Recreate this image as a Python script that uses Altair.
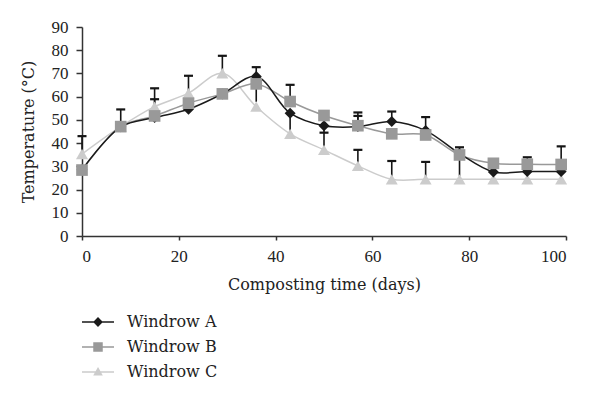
import altair as alt
import pandas as pd

# ---- data ----
days = [0, 8, 15, 22, 29, 36, 43, 50, 57, 64, 71, 78, 85, 92, 99]
series_names = ["Windrow A", "Windrow B", "Windrow C"]
windrow_a = [28.5, 47.0, 51.0, 54.6, 61.2, 68.7, 52.9, 47.5, 47.1, 49.3, 45.4, 35.5, 27.6, 27.8, 27.8]
windrow_b = [28.4, 47.1, 51.7, 57.2, 61.2, 65.5, 57.9, 51.9, 47.5, 44.0, 43.5, 34.9, 31.3, 30.9, 30.8]
windrow_c = [35.3, 47.1, 55.7, 61.5, 70.1, 55.7, 44.0, 37.1, 30.2, 24.4, 24.4, 24.4, 24.4, 24.4, 24.4]
# upper error (with cap) and visible lower error stems
err_up_a = [0, 7.5, 0, 0, 0, 4.0, 0, 0, 6.1, 4.3, 5.8, 0, 0, 0, 0]
err_up_b = [0, 0, 7.2, 0, 0, 0, 7.2, 0, 4.2, 0, 0, 3.3, 0, 3.0, 7.8]
err_up_c = [7.7, 0, 7.9, 7.5, 7.5, 0, 0, 7.4, 6.9, 7.9, 7.5, 0, 0, 0, 0]
err_dn_a = [0, 0, 0, 0, 0, 0, 8.6, 3.0, 0, 0, 0, 0, 0, 0, 0]
err_dn_b = [0, 0, 0, 0, 0, 7.7, 0, 0, 0, 0, 0, 9.0, 0, 0, 0]
err_dn_c = [0] * 15

x_ticks = [0, 20, 40, 60, 80, 100]
y_ticks = [0, 10, 20, 30, 40, 50, 60, 70, 80, 90]

# ---- styles ----
colors = ["#1a1a1a", "#999999", "#cccccc"]
shapes = ["diamond", "square", "triangle-up"]
sizes = [121, 136, 144]
legend_paths = [
    "M-1,0H1M-0.24,0L0,-0.24L0.24,0L0,0.24Z",
    "M-1,0H1M-0.25,-0.25H0.25V0.25H-0.25Z",
    "M-1,0H1M0,-0.22L0.22,0.17L-0.22,0.17Z",
]

values = [windrow_a, windrow_b, windrow_c]
ups = [err_up_a, err_up_b, err_up_c]
dns = [err_dn_a, err_dn_b, err_dn_c]

rows = []
for name, vals in zip(series_names, values):
    for d, v in zip(days, vals):
        rows.append({"day": d, "series": name, "temp": v})
df = pd.DataFrame(rows)

err_rows = []
cap_rows = []
for name, vals, up, dn in zip(series_names, values, ups, dns):
    for d, v, u, l in zip(days, vals, up, dn):
        if u > 0:
            err_rows.append({"day": d, "lo": v, "hi": v + u})
            cap_rows.append({"day": d, "hi": v + u})
        if l > 0:
            err_rows.append({"day": d, "lo": v - l, "hi": v})
err_df = pd.DataFrame(err_rows)
cap_df = pd.DataFrame(cap_rows)

x_scale = alt.Scale(domain=[0, 100], nice=False)
y_scale = alt.Scale(domain=[0, 90], nice=False)
x_axis = alt.Axis(values=x_ticks, title="Composting time (days)",
                  tickSize=4, labelPadding=8, titlePadding=12, labelOverlap=False)
y_axis = alt.Axis(values=y_ticks, title="Temperature (°C)",
                  tickSize=6, labelPadding=8, titlePadding=15, labelOverlap=False)


def xe(field):
    return alt.X(field, scale=x_scale, axis=x_axis)


def ye(field):
    return alt.Y(field, scale=y_scale, axis=y_axis)


base = alt.Chart(df)

line_layers = []
for i in [2, 1, 0]:
    line_layers.append(
        base.transform_filter(alt.datum.series == series_names[i])
        .mark_line(interpolate="catmull-rom", color=colors[i], strokeWidth=1.5)
        .encode(x=xe("day:Q"), y=ye("temp:Q"))
    )

err_rule = alt.Chart(err_df).mark_rule(color="#151515", strokeWidth=1.6).encode(
    x=xe("day:Q"), y=ye("lo:Q"), y2="hi:Q"
)
err_cap = alt.Chart(cap_df).mark_point(
    shape="M-1,0H1", size=81, stroke="#151515", strokeWidth=2.2, filled=False, opacity=1
).encode(x=xe("day:Q"), y=ye("hi:Q"))

point_layers = []
for i in [2, 0, 1]:
    point_layers.append(
        base.transform_filter(alt.datum.series == series_names[i])
        .mark_point(shape=shapes[i], filled=True, size=sizes[i], color=colors[i], opacity=1)
        .encode(x=xe("day:Q"), y=ye("temp:Q"))
    )

leg = alt.Legend(
    orient="none", legendX=-1, legendY=278, title=None,
    labelFont="DejaVu Serif", labelFontSize=16, labelColor="#222222",
    symbolSize=1024, symbolStrokeWidth=1.5, labelOffset=12, rowPadding=0, padding=0,
)
legend_layer = base.transform_filter("false").mark_point(opacity=1, strokeWidth=1.5).encode(
    x=xe("day:Q"), y=ye("temp:Q"),
    fill=alt.Fill("series:N", scale=alt.Scale(domain=series_names, range=colors), legend=leg),
    stroke=alt.Stroke("series:N", scale=alt.Scale(domain=series_names, range=colors), legend=leg),
    shape=alt.Shape("series:N", scale=alt.Scale(domain=series_names, range=legend_paths), legend=leg),
)

chart = alt.layer(*line_layers, err_rule, err_cap, *point_layers, legend_layer).properties(
    width=484, height=209,
    autosize=alt.AutoSizeParams(type="none"),
    padding={"left": 74, "top": 19, "right": 26, "bottom": 154},
).configure_view(stroke=None).configure_axis(
    grid=False,
    domainColor="#333333", domainWidth=1.5,
    tickColor="#333333", tickWidth=1.5,
    labelFont="Liberation Serif", labelFontSize=17, labelColor="#222222",
    titleFont="DejaVu Serif", titleFontSize=16, titleFontWeight="normal", titleColor="#222222",
)

chart.save("out.html", embed_options={"renderer": "svg", "actions": False})
